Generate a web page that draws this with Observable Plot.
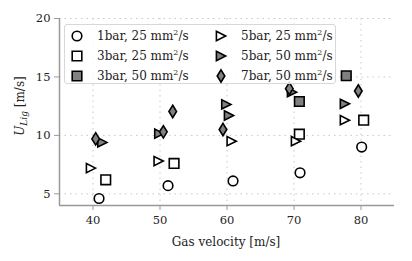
<!DOCTYPE html>
<html>
<head>
<meta charset="utf-8">
<script src="https://cdn.jsdelivr.net/npm/d3@7"></script>
<script src="https://cdn.jsdelivr.net/npm/@observablehq/plot@0.6"></script>
<style>
  html, body { margin: 0; padding: 0; background: #fff; }
  #wrap { position: relative; width: 412px; height: 261px; font-family: "DejaVu Serif", serif; color: #222; }
  #wrap svg.plot { position: absolute; left: 0; top: 0; }
  .lbl { position: absolute; font-size: 12px; white-space: nowrap; }
  .legend { position: absolute; left: 64px; top: 24px; width: 272px; height: 60px;
    border: 1px solid #d8d8d8; border-radius: 3px; background: rgba(255,255,255,0.8); box-sizing: border-box; }
  .legend .item { position: absolute; height: 20px; font-size: 12px; white-space: nowrap; line-height: 20px; }
  .legend svg { position: absolute; left: 0; top: 0; overflow: visible; }
  sup { font-size: 8px; vertical-align: 0; position: relative; top: -5px; }
</style>
</head>
<body>
<div id="wrap"></div>
<script>
// Data (gas velocity [m/s], U_Lig [m/s])
const s1bar25_x = [40.9, 51.2, 60.9, 70.9, 80.1];
const s1bar25_y = [4.6, 5.7, 6.1, 6.8, 9.0];
const s3bar25_x = [41.9, 52.1, 70.8, 80.4];
const s3bar25_y = [6.2, 7.6, 10.1, 11.3];
const s3bar50_x = [70.8, 77.8];
const s3bar50_y = [12.9, 15.1];
const s5bar25_x = [39.7, 49.8, 60.7, 70.3, 77.6];
const s5bar25_y = [7.2, 7.8, 9.5, 9.5, 11.3];
const s5bar50_x = [41.4, 49.9, 59.9, 60.3, 69.7, 77.6];
const s5bar50_y = [9.4, 10.15, 12.65, 11.7, 13.7, 12.7];
const s7bar50_x = [40.4, 50.5, 51.9, 59.4, 69.3, 79.6];
const s7bar50_y = [9.7, 10.3, 12.05, 10.5, 14.0, 13.8];
const xTicks = [40, 50, 60, 70, 80];
const yTicks = [5, 10, 15, 20];
const seriesNames = ["1bar, 25", "3bar, 25", "3bar, 50", "5bar, 25", "5bar, 50", "7bar, 50"];

// marker shapes
const symCircle = { draw(c) { const r = 4.8; c.moveTo(r, 0); c.arc(0, 0, r, 0, 2 * Math.PI); c.closePath(); } };
const symSquare = { draw(c) { const h = 4.8; c.moveTo(-h, -h); c.lineTo(h, -h); c.lineTo(h, h); c.lineTo(-h, h); c.closePath(); } };
const symTri = { draw(c) { const s = 4.6; c.moveTo(s, 0); c.lineTo(-s, -s); c.lineTo(-s, s); c.closePath(); } };
const symDiam = { draw(c) { const h = 6.2, w = 3.8; c.moveTo(0, -h); c.lineTo(w, 0); c.lineTo(0, h); c.lineTo(-w, 0); c.closePath(); } };

const GRAY = "#808080";
const series = [
  { name: seriesNames[0], xs: s1bar25_x, ys: s1bar25_y, sym: symCircle, fill: "white" },
  { name: seriesNames[1], xs: s3bar25_x, ys: s3bar25_y, sym: symSquare, fill: "white" },
  { name: seriesNames[2], xs: s3bar50_x, ys: s3bar50_y, sym: symSquare, fill: GRAY },
  { name: seriesNames[3], xs: s5bar25_x, ys: s5bar25_y, sym: symTri, fill: "white" },
  { name: seriesNames[4], xs: s5bar50_x, ys: s5bar50_y, sym: symTri, fill: GRAY },
  { name: seriesNames[5], xs: s7bar50_x, ys: s7bar50_y, sym: symDiam, fill: GRAY },
];

const dotMarks = series.map(s => Plot.dot(s.xs.map((x, i) => ({ x, y: s.ys[i] })), {
  x: "x", y: "y", symbol: () => s.sym, fill: s.fill, stroke: "black", strokeWidth: 1.6
}));

const chart = Plot.plot({
  width: 412, height: 261,
  marginLeft: 59, marginRight: 18, marginTop: 18, marginBottom: 56,
  style: { fontFamily: "DejaVu Serif", fontSize: "11.5px", color: "#222", background: "transparent" },
  x: { domain: [35, 85] },
  y: { domain: [4, 20] },
  symbol: { type: "identity" },
  marks: [
    Plot.gridX(xTicks, { stroke: "#c8c8c8", strokeOpacity: 1, strokeDasharray: "1.5,4", strokeWidth: 1 }),
    Plot.gridY(yTicks, { stroke: "#c8c8c8", strokeOpacity: 1, strokeDasharray: "1.5,4", strokeWidth: 1 }),
    Plot.axisX(xTicks, { tickSize: 5, tickPadding: 5, stroke: "#999", fill: "#222", label: null }),
    Plot.axisY(yTicks, { tickSize: 5, tickPadding: 4, stroke: "#999", fill: "#222", label: null }),
    Plot.ruleX([35], { stroke: "#999", strokeWidth: 1.5 }),
    Plot.ruleY([4], { stroke: "#999", strokeWidth: 1.5 }),
    ...dotMarks
  ]
});
chart.classList.add("plot");
const wrap = document.getElementById("wrap");
wrap.appendChild(chart);

// axis labels
const xl = document.createElement("div");
xl.className = "lbl";
xl.textContent = "Gas velocity [m/s]";
xl.style.left = "226px"; xl.style.top = "242px"; xl.style.transform = "translate(-50%,-50%)";
wrap.appendChild(xl);

const yl = document.createElement("div");
yl.className = "lbl";
yl.innerHTML = '<i>U</i><span style="font-size:9px;font-style:italic;position:relative;top:3px">Lig</span> [m/s]';
yl.style.left = "20px"; yl.style.top = "106px"; yl.style.transform = "translate(-50%,-50%) rotate(-90deg)";
wrap.appendChild(yl);

// legend
const leg = document.createElement("div");
leg.className = "legend";
wrap.appendChild(leg);
const pos = [[0,0],[0,1],[0,2],[1,0],[1,1],[1,2]];
series.forEach((s, i) => {
  const [col, row] = pos[i];
  const it = document.createElement("div");
  it.className = "item";
  it.style.left = (col === 0 ? 8 : 152) + "px";
  it.style.top = (1 + row * 20) + "px";
  const path = d3.symbol(s.sym)();
  it.innerHTML = `<svg width="1" height="1"><path transform="translate(4,10)" d="${path}" fill="${s.fill}" stroke="black" stroke-width="1.6"/></svg>` +
    `<span style="position:absolute;left:24px;top:0">${s.name} mm<sup>2</sup>/s</span>`;
  leg.appendChild(it);
});
</script>
</body>
</html>
